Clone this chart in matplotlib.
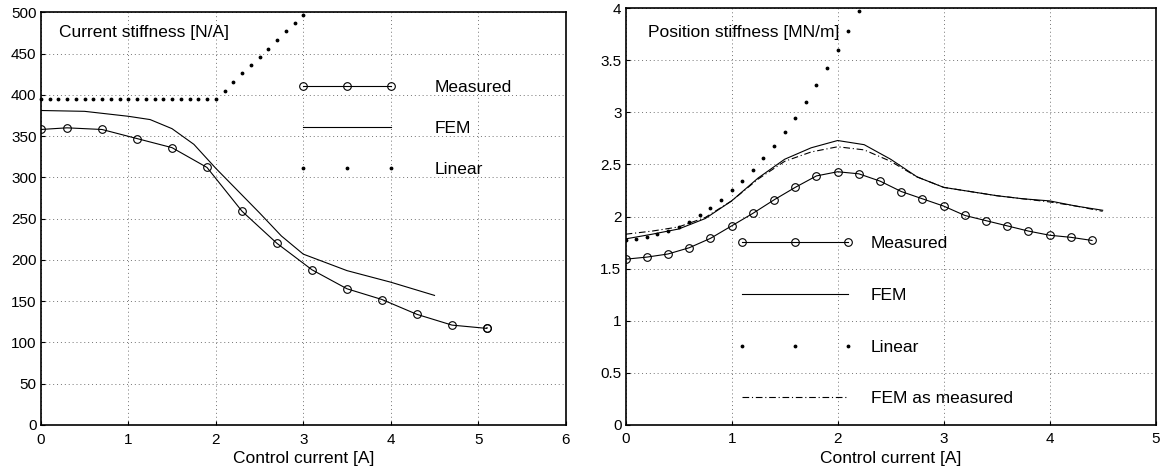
import numpy as np
import matplotlib.pyplot as plt

plt.rcParams['font.family'] = ['Liberation Sans', 'DejaVu Sans']

# left panel: current stiffness [N/A]
ki_meas_x = [0, 0.3, 0.7, 1.1, 1.5, 1.9, 2.3, 2.7, 3.1, 3.5, 3.9, 4.3, 4.7, 5.1, 5.1]
ki_meas_y = [358, 360, 358, 347, 336, 312, 259, 220, 188, 165, 152, 134, 121, 117, 118]
ki_fem_x = [0, 0.5, 1.0, 1.25, 1.5, 1.75, 2.0, 2.25, 2.5, 2.75, 3.0, 3.5, 4.0, 4.5]
ki_fem_y = [381, 380, 374, 370, 359, 340, 311, 284, 257, 229, 207, 187, 173, 157]
ki_lin_x = [0, 0.1, 0.2, 0.3, 0.4, 0.5, 0.6, 0.7, 0.8, 0.9, 1.0, 1.1, 1.2, 1.3,
            1.4, 1.5, 1.6, 1.7, 1.8, 1.9, 2.0, 2.1, 2.2, 2.3, 2.4, 2.5, 2.6,
            2.7, 2.8, 2.9, 3.0]
ki_lin_y = [395] * 21 + [405, 416, 426, 436, 446, 456, 466, 477, 487, 497]

# right panel: position stiffness [MN/m]
ks_meas_x = [0, 0.2, 0.4, 0.6, 0.8, 1.0, 1.2, 1.4, 1.6, 1.8, 2.0, 2.2, 2.4,
             2.6, 2.8, 3.0, 3.2, 3.4, 3.6, 3.8, 4.0, 4.2, 4.4]
ks_meas_y = [1.59, 1.61, 1.64, 1.70, 1.79, 1.91, 2.03, 2.16, 2.28, 2.39, 2.43,
             2.41, 2.34, 2.24, 2.17, 2.10, 2.01, 1.96, 1.91, 1.86, 1.82, 1.80, 1.77]
ks_fem_x = [0, 0.25, 0.5, 0.75, 1.0, 1.25, 1.5, 1.75, 2.0, 2.25, 2.5, 2.75,
            3.0, 3.25, 3.5, 3.75, 4.0, 4.25, 4.5]
ks_fem_y = [1.785, 1.83, 1.88, 1.98, 2.15, 2.37, 2.55, 2.66, 2.73, 2.69, 2.55,
            2.38, 2.28, 2.24, 2.20, 2.17, 2.15, 2.10, 2.06]
ks_femm_y = [1.83, 1.86, 1.90, 1.99, 2.15, 2.36, 2.53, 2.62, 2.67, 2.64, 2.53,
             2.38, 2.28, 2.24, 2.20, 2.17, 2.14, 2.10, 2.05]
ks_lin_x = [0, 0.1, 0.2, 0.3, 0.4, 0.5, 0.6, 0.7, 0.8, 0.9, 1.0, 1.1, 1.2,
            1.3, 1.4, 1.5, 1.6, 1.7, 1.8, 1.9, 2.0, 2.1, 2.2]
ks_lin_y = [1.77, 1.78, 1.80, 1.83, 1.86, 1.90, 1.95, 2.01, 2.08, 2.16, 2.25,
            2.34, 2.45, 2.56, 2.68, 2.81, 2.95, 3.10, 3.26, 3.43, 3.60, 3.78, 3.97]

fig = plt.figure(figsize=(11.61, 4.72), dpi=100)
ax1 = fig.add_axes([0.0351, 0.0996, 0.4522, 0.8744])
ax2 = fig.add_axes([0.5389, 0.1002, 0.4565, 0.8822])

FS = 12.5
circ = dict(marker='o', ms=5.5, mfc='none', mec='k', mew=0.8)
dot = dict(marker='.', ms=3.5, ls='none', color='k')


def style(ax, xmax, ymax, yticks):
    ax.set_xlim(0, xmax)
    ax.set_ylim(0, ymax)
    ax.set_xticks(np.arange(0, xmax + 1))
    ax.set_yticks(yticks)
    ax.grid(True, color='0.45', linestyle=(0, (1, 3)), linewidth=0.7)
    ax.tick_params(direction='in', length=3, labelsize=11, pad=3, width=0.8)
    ax.tick_params(axis='x', pad=5.5)
    for s in ax.spines.values():
        s.set_linewidth(1.2)
    ax.set_xlabel('Control current [A]', fontsize=FS, labelpad=3)


ax1.plot(ki_meas_x, ki_meas_y, color='k', lw=0.8, label='Measured', **circ)
ax1.plot(ki_fem_x, ki_fem_y, color='k', lw=0.8, label='FEM')
ax1.plot(ki_lin_x, ki_lin_y, label='Linear', clip_on=False, **dot)
style(ax1, 6, 500, np.arange(0, 501, 50))
ax1.text(0.0354, 0.952, 'Current stiffness [N/A]', transform=ax1.transAxes,
         va='center', fontsize=FS)
ax1.legend(loc='upper left', bbox_to_anchor=(2.943, 418), bbox_transform=ax1.transData,
           frameon=False, fontsize=FS, handlelength=5.64, handletextpad=2.22,
           labelspacing=1.48, numpoints=3, borderpad=0, borderaxespad=0)

ax2.plot(ks_meas_x, ks_meas_y, color='k', lw=0.8, label='Measured', **circ)
ax2.plot(ks_fem_x, ks_fem_y, color='k', lw=0.8, label='FEM')
ax2.plot(ks_lin_x, ks_lin_y, label='Linear', **dot)
ax2.plot(ks_fem_x, ks_femm_y, color='k', lw=0.8, ls=(0, (6, 2.5, 1, 2.5)),
         label='FEM as measured')
style(ax2, 5, 4, np.arange(0, 4.01, 0.5))
ax2.set_yticklabels(['0', '0.5', '1', '1.5', '2', '2.5', '3', '3.5', '4'])
ax2.text(0.0415, 0.941, 'Position stiffness [MN/m]', transform=ax2.transAxes,
         va='center', fontsize=FS)
ax2.legend(loc='upper left', bbox_to_anchor=(1.053, 1.81), bbox_transform=ax2.transData,
           frameon=False, fontsize=FS, handlelength=6.7, handletextpad=0.98,
           labelspacing=2.1, numpoints=3, borderpad=0, borderaxespad=0)

fig.savefig('out.png', dpi=100)
